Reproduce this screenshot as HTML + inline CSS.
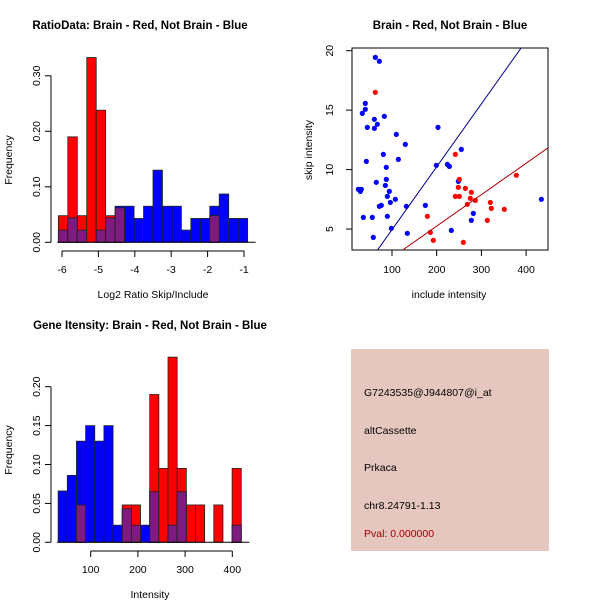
<!DOCTYPE html>
<html><head><meta charset="utf-8">
<style>
html,body{margin:0;padding:0;background:#fff;}
svg{display:block;font-family:"Liberation Sans",Arial,sans-serif;}
</style></head>
<body>
<svg id="c" width="600" height="600" viewBox="0 0 600 600">
<rect width="600" height="600" fill="#fff"/>
<text x="140" y="29" font-size="11.5" font-weight="bold" text-anchor="middle">RatioData: Brain - Red, Not Brain - Blue</text>
<text x="450" y="29" font-size="11.5" font-weight="bold" text-anchor="middle">Brain - Red, Not Brain - Blue</text>
<text x="150" y="329" font-size="11.5" font-weight="bold" text-anchor="middle">Gene Itensity: Brain - Red, Not Brain - Blue</text>
<text x="153" y="298" font-size="10.5" text-anchor="middle">Log2 Ratio Skip/Include</text>
<text x="12" y="160" font-size="10.5" text-anchor="middle" transform="rotate(-90 12 160)">Frequency</text>
<text x="449" y="298" font-size="10.5" text-anchor="middle">include intensity</text>
<text x="312" y="150" font-size="10.5" text-anchor="middle" transform="rotate(-90 312 150)">skip intensity</text>
<text x="150" y="598" font-size="10.5" text-anchor="middle">Intensity</text>
<text x="12" y="450" font-size="10.5" text-anchor="middle" transform="rotate(-90 12 450)">Frequency</text>
<g>
<rect x="351" y="349" width="198" height="202" fill="#e6c7c0"/>
<text x="364" y="396" font-size="10.5">G7243535@J944807@i_at</text>
<text x="364" y="434" font-size="10.5">altCassette</text>
<text x="364" y="471" font-size="10.5">Prkaca</text>
<text x="364" y="509" font-size="10.5">chr8.24791-1.13</text>
<text x="364" y="537" font-size="10.5" fill="#a00000">Pval: 0.000000</text>
</g>
</svg>
<script>
// ---- ratio histogram data ----
const ratioBinStart = -6.1;
const ratioBinWidth = 0.26;
const ratioRed  = [0.048,0.19,0.048,0.333,0.238,0.048,0.062,0,0,0,0,0,0,0,0,0,0.048,0,0,0];
const ratioBlue = [0.022,0.044,0.022,0,0.022,0.044,0.065,0.065,0.043,0.065,0.13,0.065,0.065,0.022,0.043,0.043,0.065,0.087,0.043,0.043];
const ratioXTicks = [-6,-5,-4,-3,-2,-1];
const ratioYTicks = [0,0.1,0.2,0.3];
const ratioYLabels = ["0.00","0.10","0.20","0.30"];
// ---- intensity histogram data ----
const intBinStart = 31;
const intBinWidth = 19.4;
const intRed  = [0,0,0.048,0,0,0,0,0.048,0.048,0,0.19,0.095,0.238,0.095,0.048,0.048,0,0.048,0,0.095];
const intBlue = [0.066,0.086,0.13,0.15,0.13,0.15,0.022,0.043,0.022,0.022,0.065,0,0.022,0.065,0,0,0,0,0,0.022];
const intXTicks = [100,200,300,400];
const intYTicks = [0,0.05,0.1,0.15,0.2];
const intYLabels = ["0.00","0.05","0.10","0.15","0.20"];
// ---- scatter data ----
const blueX = [62.7,71.7,40.3,40.3,33.6,60.5,82.9,44.8,60.5,67.2,202.9,109.7,129.8,255.1,80.6,114.2,42.6,87.3,199.2,223.8,228.3,87.3,85.1,64.9,248.4,24.7,31.4,29.2,94.0,89.6,107.5,96.3,76.1,71.7,132.1,174.6,434.1,281.9,89.6,35.9,56.0,277.5,98.5,232.7,134.3,58.2];
const blueY = [19.44,19.11,15.57,15.07,14.73,14.23,14.48,13.55,13.47,13.81,13.55,12.96,12.12,11.70,11.28,10.86,10.69,10.19,10.36,10.44,10.27,9.18,8.67,8.93,9.01,8.34,8.34,8.17,8.17,7.75,7.50,7.24,6.99,6.91,6.91,6.99,7.50,6.32,6.07,5.98,5.98,5.73,5.06,4.89,4.64,4.30];
const redX = [62.7,241.7,250.6,248.4,264.1,277.5,241.7,250.6,275.2,286.4,268.5,320.0,322.2,351.3,378.2,313.3,179.1,185.8,192.5,259.6];
const redY = [16.50,11.28,9.18,8.51,8.42,8.09,7.75,7.75,7.58,7.41,7.08,7.24,6.74,6.66,9.52,5.73,6.07,4.72,4.05,3.88];
const blueLine = [-0.34,0.0529];
const redLine = [-0.04,0.02643];
const scXTicks = [100,200,300,400];
const scYTicks = [5,10,15,20];

const svg = document.getElementById('c');
const NS = 'http://www.w3.org/2000/svg';
function mk(tag, attrs, parent){
  const e = document.createElementNS(NS, tag);
  for (const k in attrs) e.setAttribute(k, attrs[k]);
  (parent||svg).appendChild(e);
  return e;
}

function histogram(name, start, width, red, blue, xs, ys, yTicks, yLabels, xTicks, axisY, yAxisX, xTickLabelY){
  const g = mk('g', {});
  
  
  const n = red.length;
  for (let i=0;i<n;i++){
    const x0 = xs(start+i*width), x1 = xs(start+(i+1)*width);
    const b = blue[i], r = red[i], m = Math.min(b,r);
    if (b>0){
      const e = mk('rect',{x:x0,y:ys(b),width:x1-x0,height:ys(0)-ys(b),fill:'#0000ff',stroke:'#222','stroke-width':0.8},g);
      
      
    }
    if (r>0){
      const e = mk('rect',{x:x0,y:ys(r),width:x1-x0,height:ys(0)-ys(r),fill:'#ff0000',stroke:'#222','stroke-width':0.8},g);
      
      
    }
    if (m>0){
      const e = mk('rect',{x:x0,y:ys(m),width:x1-x0,height:ys(0)-ys(m),fill:'#7f1a80',stroke:'#222','stroke-width':0.8},g);
      
      
    }
  }
  mk('line',{x1:xs(start)-1,x2:xs(start+n*width)+8,y1:ys(0),y2:ys(0),stroke:'#000'},g);
  const ya = mk('g',{},g);
  
  
  mk('line',{x1:yAxisX,x2:yAxisX,y1:ys(yTicks[0]),y2:ys(yTicks[yTicks.length-1]),stroke:'#000'},ya);
  yTicks.forEach((t,i)=>{
    mk('line',{x1:yAxisX-6,x2:yAxisX,y1:ys(t),y2:ys(t),stroke:'#000'},ya);
    const tx = mk('text',{x:yAxisX-11,y:ys(t),'font-size':10.5,'text-anchor':'middle',transform:`rotate(-90 ${yAxisX-11} ${ys(t)})`},ya);
    tx.textContent = yLabels[i];
  });
  const xa = mk('g',{},g);
  
  
  mk('line',{x1:xs(xTicks[0]),x2:xs(xTicks[xTicks.length-1]),y1:axisY,y2:axisY,stroke:'#000'},xa);
  xTicks.forEach(t=>{
    mk('line',{x1:xs(t),x2:xs(t),y1:axisY,y2:axisY+6,stroke:'#000'},xa);
    const tx = mk('text',{x:xs(t),y:xTickLabelY,'font-size':10.5,'text-anchor':'middle'},xa);
    tx.textContent = t;
  });
}

const rX = v => 62 + (v+6)*36.4;
const rY = v => 242.3 - v*555;
histogram('ratio-histogram', ratioBinStart, ratioBinWidth, ratioRed, ratioBlue, rX, rY, ratioYTicks, ratioYLabels, ratioXTicks, 251, 51, 273);

const iX = v => 43.5 + v*0.472;
const iY = v => 542.3 - v*778;
histogram('intensity-histogram', intBinStart, intBinWidth, intRed, intBlue, iX, iY, intYTicks, intYLabels, intXTicks, 551, 51, 573);

const sX = v => 347.3 + v*0.447;
const sY = v => 50.7 + (20-v)*11.89;
const sg = mk('g',{});


const clip = mk('clipPath',{id:'sc'},sg);
mk('rect',{x:352,y:48,width:196,height:202},clip);
mk('rect',{x:352,y:48,width:196,height:202,fill:'none',stroke:'#000'},sg);
const pts = mk('g',{'clip-path':'url(#sc)'},sg);
function abline(p, color, nm){
  const xa = 0, xb = 460;
  const l = mk('line',{x1:sX(xa),y1:sY(p[0]+p[1]*xa),x2:sX(xb),y2:sY(p[0]+p[1]*xb),stroke:color,'stroke-width':1},pts);
  
  
}
blueX.forEach((x,i)=>{
  const c = mk('circle',{cx:sX(x),cy:sY(blueY[i]),r:2.6,fill:'#0000ff'},pts);
  
  
});
redX.forEach((x,i)=>{
  const c = mk('circle',{cx:sX(x),cy:sY(redY[i]),r:2.6,fill:'#ff0000'},pts);
  
  
});
abline(blueLine, '#00008b', 'fit-line-blue');
abline(redLine, '#b00000', 'fit-line-red');
const sxa = mk('g',{},sg);


scXTicks.forEach(t=>{
  mk('line',{x1:sX(t),x2:sX(t),y1:250,y2:256,stroke:'#000'},sxa);
  const tx = mk('text',{x:sX(t),y:273,'font-size':10.5,'text-anchor':'middle'},sxa);
  tx.textContent = t;
});
const sya = mk('g',{},sg);


scYTicks.forEach(t=>{
  mk('line',{x1:346,x2:352,y1:sY(t),y2:sY(t),stroke:'#000'},sya);
  const tx = mk('text',{x:333,y:sY(t),'font-size':10.5,'text-anchor':'middle',transform:`rotate(-90 ${333} ${sY(t)})`},sya);
  tx.textContent = t;
});
</script>
</body></html>
